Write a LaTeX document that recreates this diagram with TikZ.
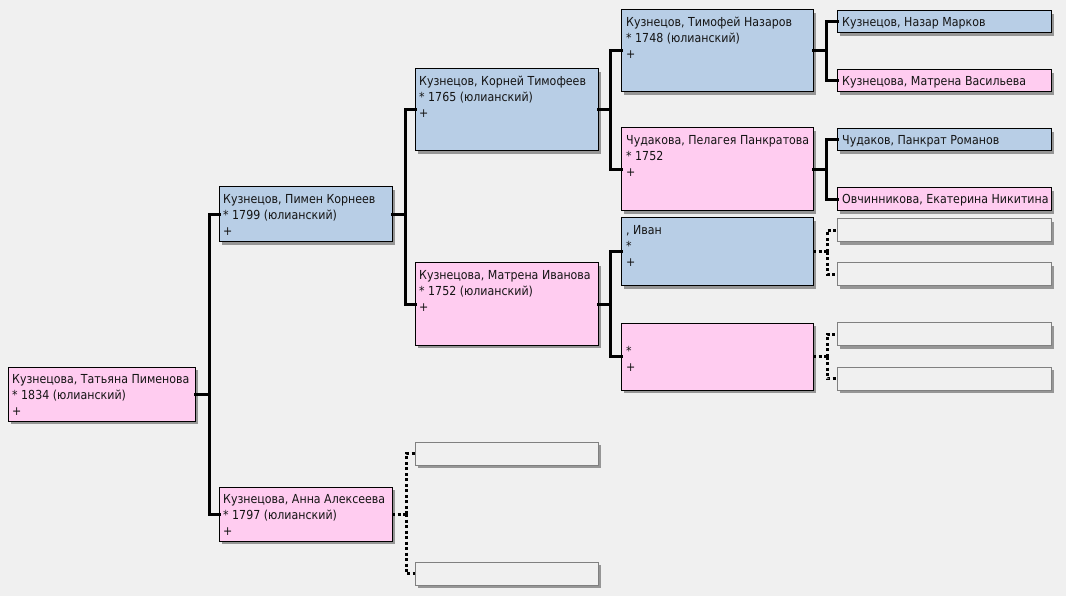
\documentclass[tikz,border=0pt]{standalone}
\usepackage{fontspec}
\setmainfont{DejaVu Sans}[FakeStretch=0.89]
\usetikzlibrary{shadows}
\definecolor{bg}{RGB}{240,240,240}
\definecolor{mblue}{RGB}{184,206,230}
\definecolor{fpink}{RGB}{255,204,240}
\definecolor{shd}{RGB}{150,150,150}
\definecolor{ebord}{RGB}{128,128,128}
\definecolor{txtc}{RGB}{20,20,20}
\begin{document}
\begin{tikzpicture}[x=1pt,y=-1pt,
  box/.style={rectangle, line width=1pt, inner sep=0pt, outer sep=0pt,
    drop shadow={shadow xshift=3pt, shadow yshift=-3pt, fill=shd, opacity=1}},
  male/.style={box, draw=black, fill=mblue},
  female/.style={box, draw=black, fill=fpink},
  empty/.style={box, draw=ebord, fill=bg},
  txt/.style={anchor=north west, inner sep=0pt, align=left, text=txtc,
    font=\fontsize{12.4}{16}\selectfont},
  conn/.style={draw=black, line width=3pt, line cap=rect, line join=miter},
  dconn/.style={draw=black, line width=3pt, line cap=butt, dash pattern=on 3pt off 2.5pt}
]
\fill[bg] (0,0) rectangle (1066,596);
\useasboundingbox (0,0) rectangle (1066,596);

% column 0
\node[female, minimum width=187pt, minimum height=54pt] (tat) at (101.5,394) {};
% column 1
\node[male, minimum width=173pt, minimum height=55pt] (pim) at (305.5,214.5) {};
\node[female, minimum width=173pt, minimum height=54pt] (anna) at (305.5,514) {};
% column 2
\node[male, minimum width=183pt, minimum height=82pt] (kor) at (506.5,110) {};
\node[female, minimum width=183pt, minimum height=82pt] (mat) at (506.5,304) {};
\node[empty, minimum width=183pt, minimum height=23pt] (e1) at (506.5,453.5) {};
\node[empty, minimum width=183pt, minimum height=23pt] (e2) at (506.5,573.5) {};
% column 3
\node[male, minimum width=192pt, minimum height=82pt] (tim) at (717,51) {};
\node[female, minimum width=192pt, minimum height=83pt] (pel) at (717,169.5) {};
\node[male, minimum width=192pt, minimum height=68pt] (ivan) at (717,252) {};
\node[female, minimum width=192pt, minimum height=67pt] (unk) at (717,356.5) {};
% column 4
\node[male, minimum width=214pt, minimum height=22pt] (naz) at (944,22) {};
\node[female, minimum width=214pt, minimum height=22pt] (mva) at (944,81) {};
\node[male, minimum width=214pt, minimum height=22pt] (pan) at (944,140) {};
\node[female, minimum width=214pt, minimum height=23pt] (ovc) at (944,199.5) {};
\node[empty, minimum width=214pt, minimum height=23pt] (e3) at (944,230.5) {};
\node[empty, minimum width=214pt, minimum height=23pt] (e4) at (944,274.5) {};
\node[empty, minimum width=214pt, minimum height=23pt] (e5) at (944,334) {};
\node[empty, minimum width=214pt, minimum height=23pt] (e6) at (944,378.5) {};

% texts
\node[txt] (ttat) at ([xshift=4pt,yshift=-4.8pt]tat.north west) {\strut Кузнецова, Татьяна Пименова\\* 1834 (юлианский)\\+};
\node[txt] (tpim) at ([xshift=4pt,yshift=-4.8pt]pim.north west) {\strut Кузнецов, Пимен Корнеев\\* 1799 (юлианский)\\+};
\node[txt] (tanna) at ([xshift=4pt,yshift=-4.8pt]anna.north west) {\strut Кузнецова, Анна Алексеева\\* 1797 (юлианский)\\+};
\node[txt] (tkor) at ([xshift=4pt,yshift=-4.8pt]kor.north west) {\strut Кузнецов, Корней Тимофеев\\* 1765 (юлианский)\\+};
\node[txt] (tmat) at ([xshift=4pt,yshift=-4.8pt]mat.north west) {\strut Кузнецова, Матрена Иванова\\* 1752 (юлианский)\\+};
\node[txt] (ttim) at ([xshift=5pt,yshift=-4.8pt]tim.north west) {\strut Кузнецов, Тимофей Назаров\\* 1748 (юлианский)\\+};
\node[txt] (tpel) at ([xshift=5pt,yshift=-4.8pt]pel.north west) {\strut Чудакова, Пелагея Панкратова\\* 1752\\+};
\node[txt] (tivan) at ([xshift=5pt,yshift=-5.5pt]ivan.north west) {\strut , Иван\\*\\+};
\node[txt] (tunk) at ([xshift=5pt,yshift=-4.8pt]unk.north west) {\strut\\*\\+};
\node[txt] (tnaz) at ([xshift=5pt,yshift=-4.3pt]naz.north west) {\strut Кузнецов, Назар Марков};
\node[txt] (tmva) at ([xshift=5pt,yshift=-4.3pt]mva.north west) {\strut Кузнецова, Матрена Васильева};
\node[txt] (tpan) at ([xshift=5pt,yshift=-4.3pt]pan.north west) {\strut Чудаков, Панкрат Романов};
\node[txt] (tovc) at ([xshift=5pt,yshift=-4.3pt]ovc.north west) {\strut Овчинникова, Екатерина Никитина};

% junctions
\coordinate (j0) at (209,394);
\coordinate (j1) at (405,214.5);
\coordinate (j2) at (406,514);
\coordinate (j3) at (610,110);
\coordinate (j4) at (610,304);
\coordinate (j5) at (826,51);
\coordinate (j6) at (826,169.5);
\coordinate (j7) at (827,252);
\coordinate (j8) at (827,356.5);

% connectors
\draw[conn] (tat.east) -- (j0) |- (pim.west);
\draw[conn] (j0) |- (anna.west);
\draw[conn] (pim.east) -- (j1) |- (kor.west);
\draw[conn] (j1) |- (mat.west);
\draw[dconn] (anna.east) -- (j2);
\draw[dconn] (j2) |- (e1.west);
\draw[dconn] (j2) |- (e2.west);
\draw[conn] (kor.east) -- (j3) |- (tim.west);
\draw[conn] (j3) |- (pel.west);
\draw[conn] (mat.east) -- (j4) |- (ivan.west);
\draw[conn] (j4) |- (unk.west);
\draw[conn] (tim.east) -- (j5) |- (naz.west);
\draw[conn] (j5) |- (mva.west);
\draw[conn] (pel.east) -- (j6) |- (pan.west);
\draw[conn] (j6) |- (ovc.west);
\draw[dconn] (ivan.east) -- (j7);
\draw[dconn] (j7) |- (e3.west);
\draw[dconn] (j7) |- (e4.west);
\draw[dconn] (unk.east) -- (j8);
\draw[dconn] (j8) |- (e5.west);
\draw[dconn] (j8) |- (e6.west);
\end{tikzpicture}
\end{document}
